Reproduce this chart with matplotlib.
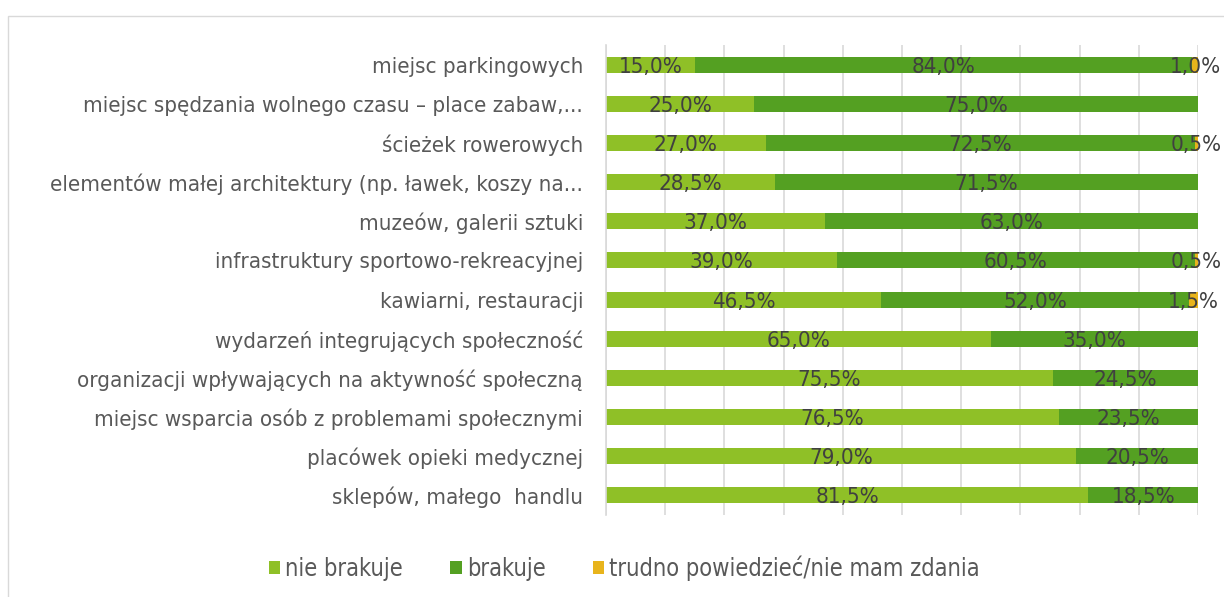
from matplotlib import pyplot as plt, patches as pa
import numpy as np

# Data
categories = [
    'miejsc parkingowych',
    'miejsc spędzania wolnego czasu – place zabaw,...',
    'ścieżek rowerowych',
    'elementów małej architektury (np. ławek, koszy na...',
    'muzeów, galerii sztuki',
    'infrastruktury sportowo-rekreacyjnej',
    'kawiarni, restauracji',
    'wydarzeń integrujących społeczność',
    'organizacji wpływających na aktywność społeczną',
    'miejsc wsparcia osób z problemami społecznymi',
    'placówek opieki medycznej',
    'sklepów, małego  handlu',
]
nie_brakuje = [15.0, 25.0, 27.0, 28.5, 37.0, 39.0, 46.5, 65.0, 75.5, 76.5, 79.0, 81.5]
brakuje = [84.0, 75.0, 72.5, 71.5, 63.0, 60.5, 52.0, 35.0, 24.5, 23.5, 20.5, 18.5]
trudno = [1.0, 0.0, 0.5, 0.0, 0.0, 0.5, 1.5, 0.0, 0.0, 0.0, 0.0, 0.0]
series_names = ['nie brakuje', 'brakuje', 'trudno powiedzieć/nie mam zdania']
colors = ['#8FC027', '#54A022', '#E8B41C']

plt.rcParams['font.family'] = 'DejaVu Sans'
plt.rcParams['font.stretch'] = 'condensed'

fig = plt.figure(figsize=(12.24, 5.97), dpi=100)
ax = fig.add_axes([606 / 1224, 1 - 515 / 597, 592 / 1224, 470 / 597])

# outer chart border
fig.patches.append(pa.Rectangle((8 / 1224, -0.1), 2, 1 - 16 / 597 + 0.1,
                                transform=fig.transFigure, fill=False,
                                edgecolor='#D9D9D9', linewidth=1))

data = np.array([nie_brakuje, brakuje, trudno])
totals = data.sum(axis=0)
shares = data / totals * 100
y = np.arange(len(categories))
left = np.zeros(len(categories))
for i, name in enumerate(series_names):
    ax.barh(y, shares[i], left=left, height=0.41, color=colors[i], label=name, zorder=2)
    for j in range(len(categories)):
        if data[i, j] > 0:
            ax.text(left[j] + shares[i, j] / 2, y[j] + 0.05, f'{data[i, j]:.1f}%'.replace('.', ','),
                    ha='center', va='center', fontsize=16, color='#404040', zorder=3)
    left += shares[i]

ax.set_yticks(y)
ax.set_yticklabels(categories, fontsize=16, color='#595959')
ax.set_ylim(len(categories) - 0.5, -0.5)
ax.set_xlim(0, 100)
ax.set_xticks(np.arange(0, 101, 10))
ax.tick_params(axis='x', length=0, labelbottom=False)
ax.tick_params(axis='y', length=0, pad=16.5)
ax.grid(axis='x', color='#D9D9D9', linewidth=1.2)
ax.set_axisbelow(True)
for s in ['top', 'right', 'bottom']:
    ax.spines[s].set_visible(False)
ax.spines['left'].set_color('#D9D9D9')
ax.spines['left'].set_linewidth(1.2)

leg = fig.legend(loc='center', bbox_to_anchor=(0.51, 1 - 568 / 597), ncol=3, frameon=False,
                 fontsize=17, handlelength=0.5, handleheight=0.5, handletextpad=0.2,
                 columnspacing=2.0, labelcolor='#595959')

fig.savefig('out.png', dpi=100)
